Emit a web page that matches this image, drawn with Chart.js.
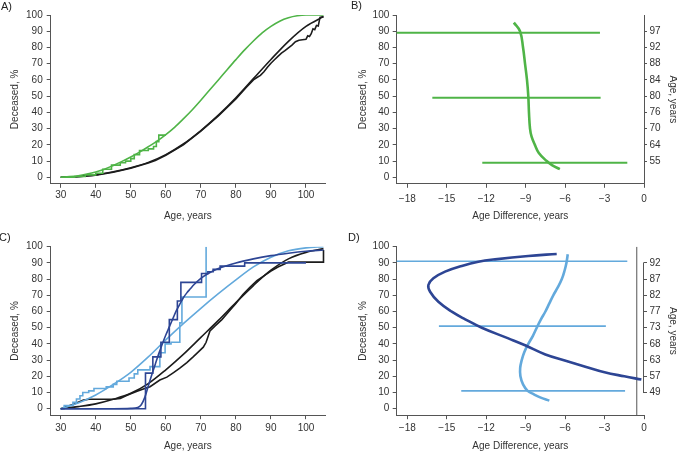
<!DOCTYPE html>
<html><head><meta charset="utf-8">
<script src="https://cdn.jsdelivr.net/npm/chart.js@4/dist/chart.umd.min.js"></script>
<style>
body{margin:0;background:#fff;width:677px;height:453px;overflow:hidden;position:relative;font-family:"Liberation Sans",Arial,sans-serif;}
canvas{position:absolute;}
.lbl{position:absolute;font-size:11px;color:#222;line-height:12px;}
</style></head><body>
<canvas id="cA" width="338" height="226" style="left:0;top:0;width:338px;height:226px"></canvas>
<canvas id="cB" width="339" height="226" style="left:338px;top:0;width:339px;height:226px"></canvas>
<canvas id="cC" width="338" height="227" style="left:0;top:226px;width:338px;height:227px"></canvas>
<canvas id="cD" width="339" height="227" style="left:338px;top:226px;width:339px;height:227px"></canvas>
<div class="lbl" style="left:1px;top:0px">A)</div>
<div class="lbl" style="left:351px;top:-1px">B)</div>
<div class="lbl" style="left:-1px;top:231px">C)</div>
<div class="lbl" style="left:348px;top:231px">D)</div>
<script>
// ---------- tick labels ----------
const ageTicks = [30,40,50,60,70,80,90,100];
const pctTicks = [0,10,20,30,40,50,60,70,80,90,100];
const diffTicks = [-18,-15,-12,-9,-6,-3,0];
const rightTickPos = [10,20,30,40,50,60,70,80,90];
const bRightAgeLabels = ['55','64','70','76','80','84','88','92','97'];
const dRightAgeLabels = ['49','57','63','68','73','77','82','87','92'];

// ---------- Panel A ----------
const aGreenFitAge = [30,32.5,35,37.5,40,42.5,45,47.5,50,52.5,55,57.5,60,62.5,65,67.5,70,72.5,75,77.5,80,82.5,85,87.5,90,92.5,95,97.5,100,105];
const aGreenFitPct = [0,0.4,1,2,3.3,5,7.3,9.8,12.5,15.5,18.8,22.3,26.3,30.8,36,41.5,47.5,53.8,60,66.3,72.5,78.5,84,89,93,96.2,98.3,99.5,100,100];
const aGreenKmAge = [30,34,37,40,42,44.5,47,48.5,50,51,52.5,55,56.5,57.3,58,60];
const aGreenKmPct = [0,0.5,1.5,2.5,5,7.5,9,10,11.5,14,16.5,17.5,19,22,26,26];
const aBlackFitAge = [30,35,40,45,50,55,60,65,70,75,80,85,90,95,100,105];
const aBlackFitPct = [0,0.5,1.5,3.4,5.9,9.2,14,20.5,28.8,38.3,49,60.8,72.6,83.8,93,99];
const aBlackKmAge = [30,35,40,45,50,55,57,60,65,70,75,80,83,85,86,87,88,89,90,91,92,93,94,95,96,97,98,99,100,100.5,101,101.5,102,102.5,103,103.5,104,105];
const aBlackKmPct = [0,0.4,1.3,3.1,5.6,8.8,10.3,13.6,20,28.4,37.8,48.3,55.5,60,61.5,62.8,65,67.8,70.3,72.4,74.5,76.5,78,79.8,81.5,83.5,84.5,84.8,85,87.2,86.8,88.5,91.5,91,93.5,93.2,98.5,99];

// ---------- Panel B ----------
const bCurveDiff = [-6.4,-7.0,-7.4,-8.0,-8.3,-8.55,-8.67,-8.75,-8.8,-8.9,-9.05,-9.2,-9.43,-9.9];
const bCurvePct = [5,7.5,10,15,20,25,30,40,50,60,70,80,90,95.3];
const bCiPct = [9,49,89];
const bCiLow = [-12.3,-16.1,-19];
const bCiHigh = [-1.27,-3.3,-3.35];

// ---------- Panel C ----------
const cBlackFitAge = [30,35,40,45,50,55,60,65,70,75,80,85,90,95,100,105];
const cBlackFitPct = [0,1.3,3,5.8,9.5,15.5,24,33.5,44,54.5,65.5,76,85.5,92.5,96.5,98.8];
const cBlackKmAge = [30,32,34,36.5,38,45,47,48.8,50,52,54,55.5,58.3,60.3,62,64,66,67.8,69,70.7,71.5,72.6,74,76,78,80,82,84,86,88,90,92,94,95,105,105];
const cBlackKmPct = [0,1.5,3,5.3,5.8,5.8,6.3,8.2,9.3,11,12.5,13.6,17.7,19.5,22,25,28.5,32,34.5,38,41,48,51,55,60,65,70.5,75,79,82,85,87.5,89.5,90.5,90.5,98];
const cLightFitAge = [30,35,40,45,50,55,60,65,70,75,80,85,90,95,100,105];
const cLightFitPct = [0,3.5,8.5,15,22.5,32,42.5,52.5,62,71,79.5,87.5,93.5,97.5,99.3,100];
const cLightKmAge = [30,31,33.5,34.5,35.5,36.3,38,39.5,43,45,46,49.5,51,52,55.5,58.3,59.8,61.5,64,64.6,71.5];
const cLightKmPct = [0,2,4,6,8,10,11,12.5,13.5,15,17,19,21.5,24,26,34.5,40,41,53,69,100];
const cDarkFitAge = [30,45,50,52,53,54,55,56,57,58,59,60,61,62,63,64,65,66,67,68,70,72,75,80,85,90,95,100,105];
const cDarkFitPct = [0,0,0.2,0.8,2.5,7,14,21,27.5,34,40,45.5,50.5,55.5,60.5,64.5,68.5,71.5,74,76.5,80.5,83.3,86.5,90,92.5,94.5,96,97.2,98];
const cDarkKmAge = [30,54.2,56.3,58.6,61,63.3,64.3,70.2,72,73.5,75.5,82.5,100];
const cDarkKmPct = [0,22,32,41,55,66.5,78,83.5,84.5,86,88,90,90];

// ---------- Panel D ----------
const dDarkDiff = [-6.64,-8.8,-11.33,-12.6,-13.86,-15.13,-16.02,-16.4,-16.27,-15.64,-14.62,-13.6,-12.34,-10.32,-9.0,-7.5,-5.9,-4.4,-3.0,-1.5,-0.2];
const dDarkPct = [95.5,94.3,92.2,90.7,88.1,84.6,80.5,76.4,72.2,66,59.9,55.2,50,43.4,39,33.5,29.5,25.8,22.5,20,18];
const dLightDiff = [-5.8,-5.9,-6.05,-6.25,-6.55,-6.9,-7.2,-7.5,-7.85,-8.1,-8.45,-8.8,-9.1,-9.3,-9.42,-9.4,-9.2,-8.85,-8.4,-7.9,-7.2];
const dLightPct = [95.3,90,85,80,75,70,65,60,55,51,45,40,35,30,25,20,15,11,9,7,5];
const dCiPct = [11,51,91];
const dCiLow = [-13.9,-15.6,-19];
const dCiHigh = [-1.44,-2.9,-1.27];
const dRefLineDiff = -0.55;

// ---------- styling ----------
const FONT = {family:'"Liberation Sans", Arial, sans-serif', size:10};
const AXIS = '#555', TEXT = '#333';
const GREEN = '#4fb447', DARK = '#2d4594', LIGHT = '#63a9dc', BLACK = '#1c1c1c';

function pts(xs, ys){ return xs.map((x,i)=>({x:x, y:ys[i]})); }
function ds(data, color, width, extra){
  return Object.assign({data:data, borderColor:color, backgroundColor:color, borderWidth:width, pointRadius:0, showLine:true, fill:false, tension:0}, extra||{});
}
function ciSets(pcts, lows, highs, color, width){
  return pcts.map((p,i)=>ds([{x:lows[i],y:p},{x:highs[i],y:p}], color, width));
}
const minusFmt = v => v < 0 ? '\u2212' + (-v) : String(v);

function scale(o){
  return {
    type:'linear', position:o.position, min:o.min, max:o.max,
    afterBuildTicks: s => { s.ticks = o.ticks.map(v=>({value:v})); },
    afterFit: s => { if (o.width != null) s.width = o.width; if (o.height != null) s.height = o.height; },
    grid:{display:true, drawOnChartArea:false, drawTicks:true, tickLength:o.tl||4, color:AXIS, lineWidth:1},
    border:{display:o.border !== false, color:AXIS, width:1},
    ticks:{color:TEXT, font:FONT, padding:o.pad, autoSkip:false, maxRotation:0, minRotation:0, callback:o.cb || (v=>String(v))},
    title:{display:true, text:o.title, color:TEXT, font:FONT, padding:o.tpad}
  };
}
function baseOptions(padding, scales){
  return {animation:false, responsive:false, devicePixelRatio:1, events:[],
    layout:{padding:padding},
    plugins:{legend:{display:false}, tooltip:{enabled:false}},
    scales:scales};
}
const mono = {cubicInterpolationMode:'monotone'};
const smooth = {tension:0.4};

// ---------- Chart A ----------
new Chart(document.getElementById('cA'), {
  type:'scatter',
  data:{datasets:[
    ds(pts(aGreenFitAge, aGreenFitPct), GREEN, 1.6, mono),
    ds(pts(aGreenKmAge, aGreenKmPct), GREEN, 1.6, {stepped:true}),
    ds(pts(aBlackKmAge, aBlackKmPct), BLACK, 1.6),
    ds(pts(aBlackFitAge, aBlackFitPct), BLACK, 1.6, mono)
  ]},
  options: baseOptions({top:15, right:13, left:0, bottom:0}, {
    x: scale({position:'bottom', min:27.15, max:105.43, ticks:ageTicks, height:42.2, pad:1.7, title:'Age, years', tpad:{top:0,bottom:3.3}}),
    y: scale({position:'left', min:-4, max:100, ticks:pctTicks, width:50.7, pad:4, title:'Deceased, %', tpad:{top:9,bottom:0}})
  })
});

// ---------- Chart B ----------
new Chart(document.getElementById('cB'), {
  type:'scatter',
  data:{datasets:[
    ds(pts(bCurveDiff, bCurvePct), GREEN, 2.6, smooth)
  ].concat(ciSets(bCiPct, bCiLow, bCiHigh, GREEN, 2))},
  options: baseOptions({top:15, right:0, left:0, bottom:0}, {
    x: scale({position:'bottom', min:-18.81, max:0, ticks:diffTicks, height:42.2, pad:5.2, cb:minusFmt, title:'Age Difference, years', tpad:{top:0,bottom:3.3}}),
    y: scale({position:'left', min:-4, max:100, ticks:pctTicks, width:58.7, pad:3.4, title:'Deceased, %', tpad:{top:19.3,bottom:0}}),
    y2: scale({position:'right', min:-4, max:100, ticks:rightTickPos, width:33, tl:3, pad:2.5, cb:(v,i)=>bRightAgeLabels[i], title:'Age, years', tpad:{top:-1.5,bottom:0}})
  })
});

// ---------- Chart C ----------
new Chart(document.getElementById('cC'), {
  type:'scatter',
  data:{datasets:[
    ds(pts(cDarkKmAge, cDarkKmPct), DARK, 1.6, {stepped:true}),
    ds(pts(cDarkFitAge, cDarkFitPct), DARK, 1.6, mono),
    ds(pts(cLightKmAge, cLightKmPct), LIGHT, 1.6, {stepped:true}),
    ds(pts(cLightFitAge, cLightFitPct), LIGHT, 1.6, mono),
    ds(pts(cBlackKmAge, cBlackKmPct), BLACK, 1.6),
    ds(pts(cBlackFitAge, cBlackFitPct), BLACK, 1.6, mono)
  ]},
  options: baseOptions({top:20.7, right:13, left:0, bottom:0}, {
    x: scale({position:'bottom', min:27.15, max:105.43, ticks:ageTicks, height:37.8, pad:3.5, title:'Age, years', tpad:{top:0,bottom:0.3}}),
    y: scale({position:'left', min:-4, max:100, ticks:pctTicks, width:50.7, pad:4, title:'Deceased, %', tpad:{top:9,bottom:0}})
  })
});

// ---------- Chart D ----------
const partialRightAxis = {
  id:'partialRightAxis',
  afterDraw(chart){
    const s = chart.scales.y2, ctx = chart.ctx;
    const x = Math.round(s.left) - 0.5;
    ctx.save(); ctx.strokeStyle = AXIS; ctx.lineWidth = 1;
    ctx.beginPath();
    ctx.moveTo(x, s.getPixelForValue(rightTickPos[0]) + 0.5);
    ctx.lineTo(x, s.getPixelForValue(rightTickPos[rightTickPos.length-1]) - 0.5);
    ctx.stroke(); ctx.restore();
  }
};
new Chart(document.getElementById('cD'), {
  type:'scatter',
  data:{datasets:[
    ds(pts(dDarkDiff, dDarkPct), DARK, 2.6, smooth),
    ds(pts(dLightDiff, dLightPct), LIGHT, 2.6, smooth),
    ds([{x:dRefLineDiff, y:-4},{x:dRefLineDiff, y:100}], AXIS, 1)
  ].concat(ciSets(dCiPct, dCiLow, dCiHigh, LIGHT, 1.6))},
  options: baseOptions({top:20.7, right:0, left:0, bottom:0}, {
    x: scale({position:'bottom', min:-18.81, max:0, ticks:diffTicks, height:37.8, pad:2.6, cb:minusFmt, title:'Age Difference, years', tpad:{top:0,bottom:0.3}}),
    y: scale({position:'left', min:-4, max:100, ticks:pctTicks, width:58.7, pad:3.4, title:'Deceased, %', tpad:{top:19.3,bottom:0}}),
    y2: scale({position:'right', min:-4, max:100, ticks:rightTickPos, width:33, tl:3, pad:2.5, border:false, cb:(v,i)=>dRightAgeLabels[i], title:'Age, years', tpad:{top:-1.5,bottom:0}})
  }),
  plugins:[partialRightAxis]
});
</script>
</body></html>
